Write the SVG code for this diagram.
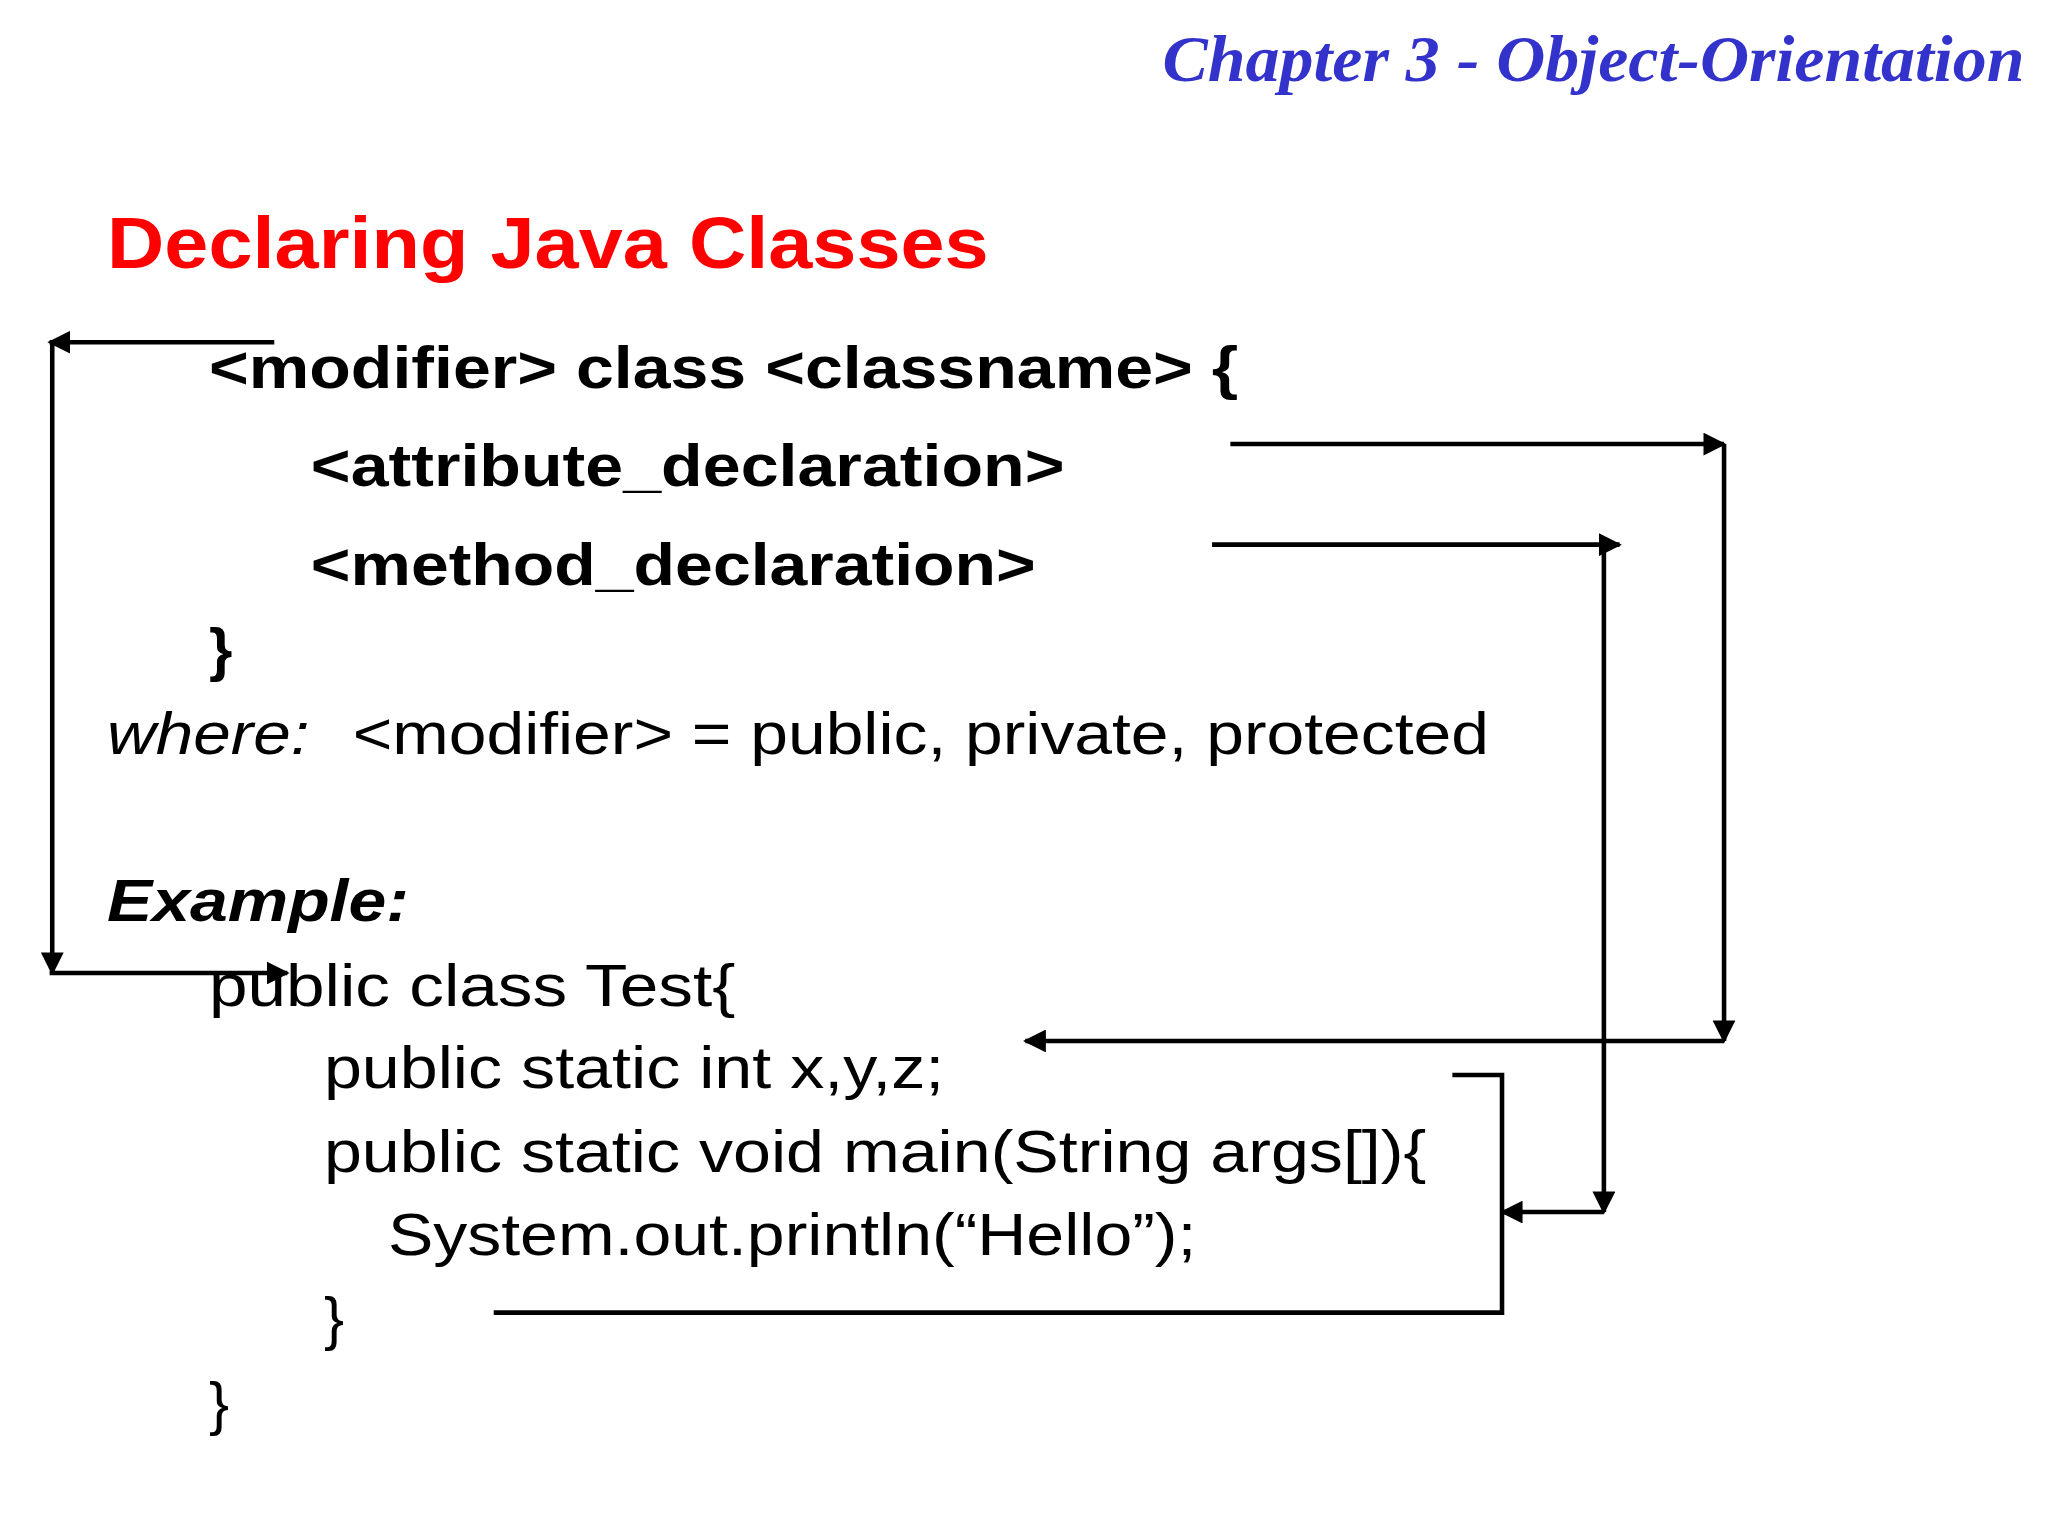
<svg xmlns="http://www.w3.org/2000/svg" width="2048" height="1536" viewBox="0 0 2048 1536">
<defs>
<marker id="ah" viewBox="0 0 10 10" refX="9" refY="5" markerWidth="5" markerHeight="5" orient="auto" markerUnits="strokeWidth"><path d="M0,0 L10,5 L0,10 z" fill="#000"/></marker>
</defs>
<style>
.t{font-family:"Liberation Sans",Arial,sans-serif;fill:#000;font-size:46px}
.b{font-weight:bold}
.c{fill:none;stroke:#000;stroke-width:3.5}
</style>
<rect width="2048" height="1536" fill="#fff"/>
<g transform="scale(1.3061)">
<g id="header">
<text x="1550" y="62" text-anchor="end" style="font-family:'Liberation Serif',serif;font-weight:bold;font-style:italic;font-size:50px;fill:#3333cc" textLength="660" lengthAdjust="spacingAndGlyphs">Chapter 3 - Object-Orientation</text>
<text x="82" y="205" style="font-family:'Liberation Sans',sans-serif;font-weight:bold;font-size:56px;fill:#ff0000" textLength="675" lengthAdjust="spacingAndGlyphs">Declaring Java Classes</text>
</g>
<g id="syntax">
<text class="t b" x="160" y="297" textLength="788" lengthAdjust="spacingAndGlyphs">&lt;modifier&gt; class &lt;classname&gt; {</text>
<text class="t b" x="238" y="372" textLength="577" lengthAdjust="spacingAndGlyphs">&lt;attribute_declaration&gt;</text>
<text class="t b" x="238" y="448" textLength="555" lengthAdjust="spacingAndGlyphs">&lt;method_declaration&gt;</text>
<text class="t b" x="160" y="513">}</text>
<text class="t" x="82" y="577" font-style="italic" textLength="155" lengthAdjust="spacingAndGlyphs">where:</text>
<text class="t" x="270" y="577" textLength="870" lengthAdjust="spacingAndGlyphs">&lt;modifier&gt; = public, private, protected</text>
</g>
<g id="example">
<text class="t b" x="82" y="705" font-style="italic" textLength="231" lengthAdjust="spacingAndGlyphs">Example:</text>
<text class="t" x="160" y="770" textLength="403" lengthAdjust="spacingAndGlyphs">public class Test{</text>
<text class="t" x="248" y="833" textLength="475" lengthAdjust="spacingAndGlyphs">public static int x,y,z;</text>
<text class="t" x="248" y="897" textLength="844" lengthAdjust="spacingAndGlyphs">public static void main(String args[]){</text>
<text class="t" x="297" y="961" textLength="619" lengthAdjust="spacingAndGlyphs">System.out.println(“Hello”);</text>
<text class="t" x="248" y="1025">}</text>
<text class="t" x="160" y="1090">}</text>
</g>
<g id="connectors">
<line class="c" x1="210" y1="262" x2="38" y2="262" marker-end="url(#ah)"/>
<line class="c" x1="40" y1="262" x2="40" y2="745" marker-end="url(#ah)"/>
<line class="c" x1="38" y1="745" x2="220" y2="745" marker-end="url(#ah)"/>
<line class="c" x1="942" y1="340" x2="1320" y2="340" marker-end="url(#ah)"/>
<line class="c" x1="1320" y1="340" x2="1320" y2="797" marker-end="url(#ah)"/>
<line class="c" x1="1320" y1="797" x2="785" y2="797" marker-end="url(#ah)"/>
<line class="c" x1="928" y1="417" x2="1240" y2="417" marker-end="url(#ah)"/>
<line class="c" x1="1228" y1="417" x2="1228" y2="928" marker-end="url(#ah)"/>
<line class="c" x1="1228" y1="928" x2="1150" y2="928" marker-end="url(#ah)"/>
<polyline class="c" points="1112,823 1150,823 1150,1005 378,1005"/>
</g>
</g>
</svg>
